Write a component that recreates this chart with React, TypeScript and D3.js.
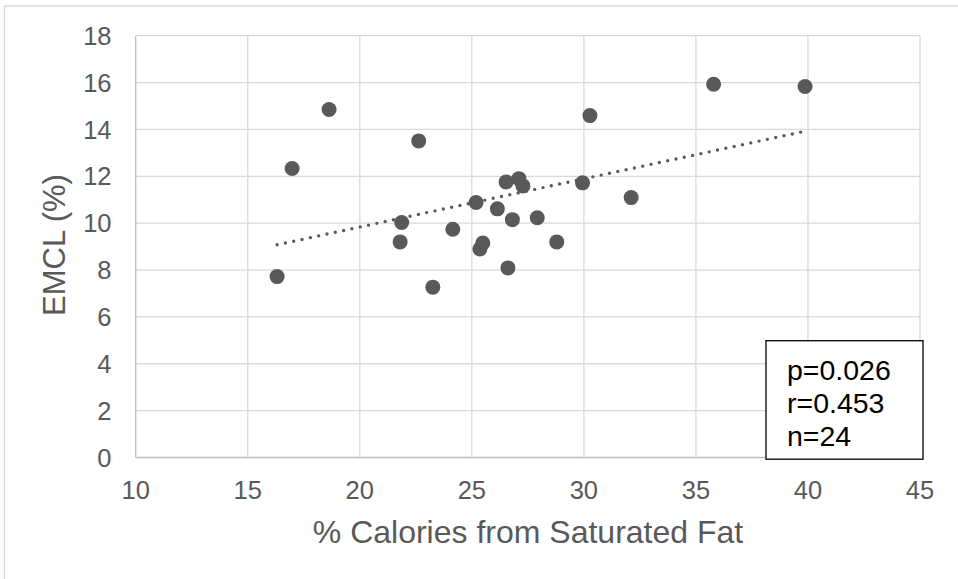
import React from "react";
import * as d3 from "d3";

// % calories from saturated fat vs EMCL (%)
const satFat = [
  18.63, 22.63, 16.98, 26.53, 27.1, 27.28, 25.19, 26.14, 26.81, 27.92, 21.87, 21.8,
  24.15, 25.49, 25.36, 26.61, 23.26, 16.31, 28.79, 29.94, 32.11, 30.27, 35.79, 39.87,
];
const emcl = [
  14.85, 13.51, 12.33, 11.76, 11.9, 11.59, 10.88, 10.61, 10.15, 10.23, 10.03, 9.2,
  9.74, 9.15, 8.9, 8.09, 7.27, 7.72, 9.2, 11.72, 11.09, 14.59, 15.93, 15.83,
];
const xTicks = [10, 15, 20, 25, 30, 35, 40, 45];
const yTicks = [0, 2, 4, 6, 8, 10, 12, 14, 16, 18];
const stats = ["p=0.026", "r=0.453", "n=24"];

const W = 958, H = 579;
const margin = { top: 35.7, right: 38, bottom: 121.5, left: 135.7 };
const FONT = "'Liberation Sans', Arial, sans-serif";
const GREY = "#595959";

export default function App() {
  const x = d3.scaleLinear().domain([10, 45]).range([margin.left, W - margin.right]);
  const y = d3.scaleLinear().domain([0, 18]).range([H - margin.bottom, margin.top]);

  // least squares trendline
  const mx = d3.mean(satFat)!, my = d3.mean(emcl)!;
  const sxy = d3.sum(satFat, (v, i) => (v - mx) * (emcl[i] - my));
  const sxx = d3.sum(satFat, v => (v - mx) ** 2);
  const slope = sxy / sxx, icpt = my - slope * mx;
  const [x0, x1] = d3.extent(satFat) as [number, number];
  const trend = d3.line<number>().x(d => x(d)).y(d => y(icpt + slope * d))([x0, x1]);

  const points = satFat.map((v, i) => ({ sx: v, e: emcl[i] }));

  return (
    <svg width={W} height={H} style={{ position: "absolute", left: 0, top: 0 }} fontFamily={FONT}>
      <rect x={0} y={0} width={W} height={H} fill="#fff" />
      <path d={`M4.5,${H} V6 H${W}`} fill="none" stroke="#d9d9d9" strokeWidth={1.3} />

      {yTicks.slice(1).map(t => (
        <line key={"gy" + t} x1={x(10)} x2={x(45)} y1={y(t)} y2={y(t)} stroke="#d9d9d9" strokeWidth={1.3} />
      ))}
      {xTicks.map(t => (
        <line key={"gx" + t} x1={x(t)} x2={x(t)} y1={y(0)} y2={y(18)} stroke={t === 10 ? "#bfbfbf" : "#d9d9d9"} strokeWidth={1.3} />
      ))}
      <line x1={x(10)} x2={x(45)} y1={y(0)} y2={y(0)} stroke="#bfbfbf" strokeWidth={1.3} />

      {yTicks.map(t => (
        <text key={"ty" + t} x={111.5} y={y(t)} dy="0.36em" textAnchor="end" fontSize={25.5} fill={GREY}>{t}</text>
      ))}
      {xTicks.map(t => (
        <text key={"tx" + t} x={x(t)} y={498.5} textAnchor="middle" fontSize={25.5} fill={GREY}>{t}</text>
      ))}

      <text x={528} y={542.5} textAnchor="middle" fontSize={32} fill={GREY}>% Calories from Saturated Fat</text>
      <text transform={`translate(65,245) rotate(-90)`} textAnchor="middle" fontSize={31} fill={GREY}>EMCL (%)</text>

      {trend && (
        <path d={trend} fill="none" stroke={GREY} strokeWidth={3.4} strokeLinecap="round" strokeDasharray="0 8.5" />
      )}

      {points.map((p, i) => (
        <circle key={i} cx={x(p.sx)} cy={y(p.e)} r={7.5} fill={GREY} />
      ))}

      <rect x={766} y={340.7} width={157} height={118.5} fill="#fff" stroke="#000" strokeWidth={1.3} />
      {stats.map((s, i) => (
        <text key={s} x={787} y={379.5 + i * 33.3} fontSize={28.5} fill="#000">{s}</text>
      ))}
    </svg>
  );
}
